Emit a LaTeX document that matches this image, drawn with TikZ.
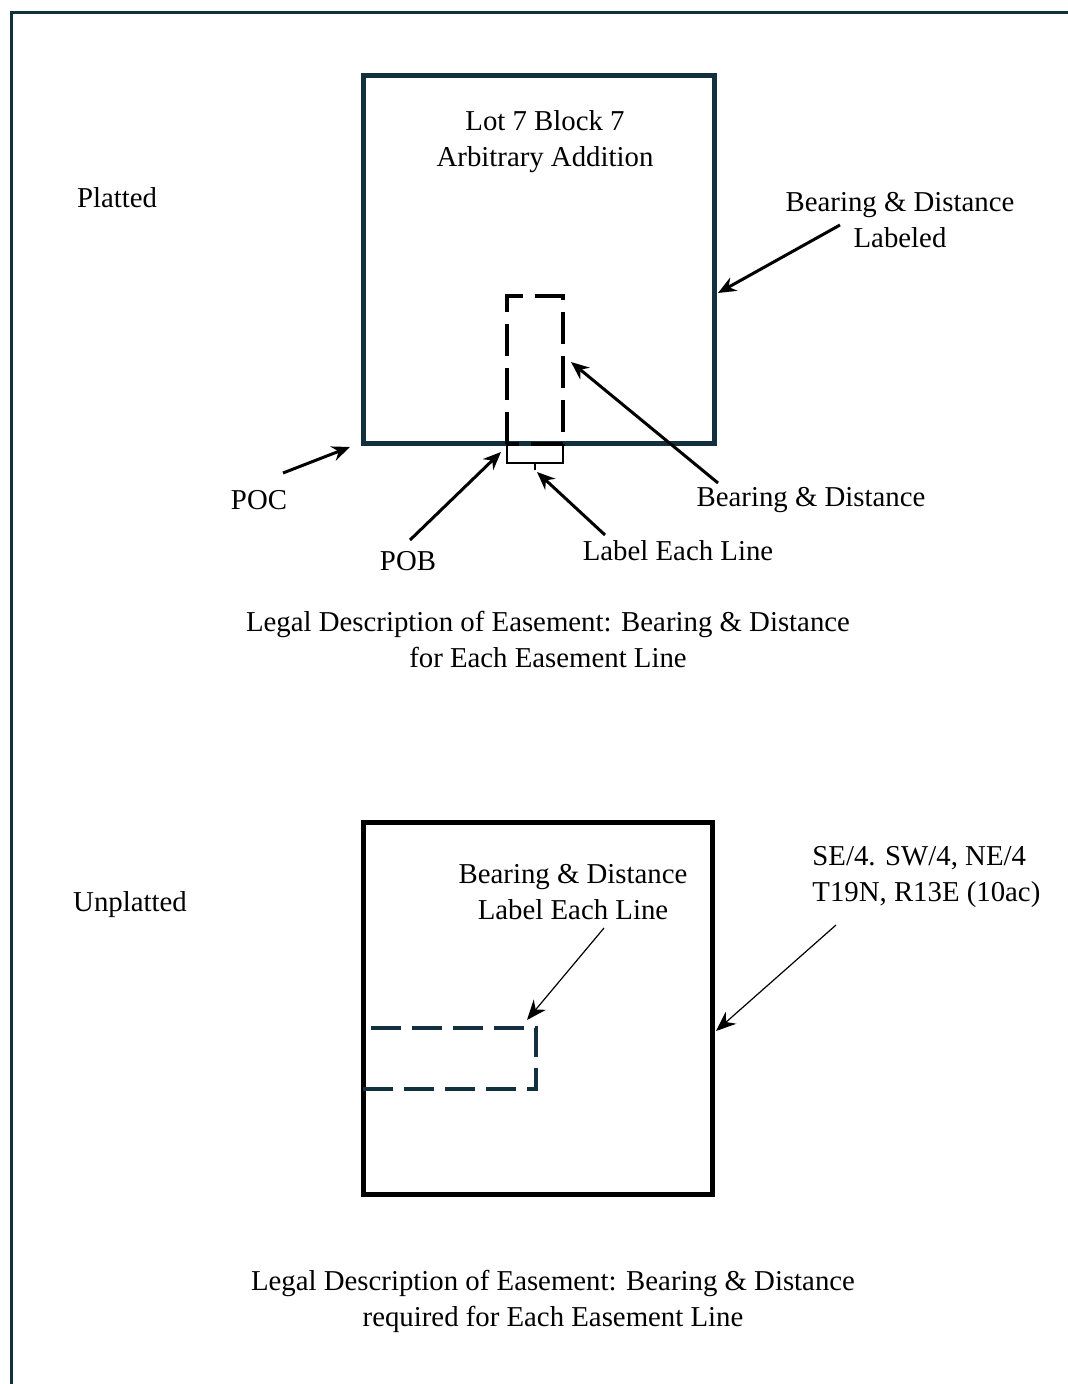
\documentclass[tikz,border=0pt]{standalone}
\usepackage{fontspec}
\setmainfont{Liberation Serif}
\usetikzlibrary{arrows.meta}
\definecolor{navy}{HTML}{12303D}

\tikzset{
  lotline/.style={line width=2.5pt, draw=navy},
  parcelline/.style={line width=2.5pt, draw=black},
  easeline/.style={line width=2pt, dash pattern=on 16pt off 6pt},
  easelow/.style={line width=1.75pt, draw=navy, dash pattern=on 15pt off 5.5pt},
  callout/.style={line width=1.5pt, -{Stealth[length=9pt,width=7.5pt]}},
  thincallout/.style={line width=0.6pt, -{Stealth[length=10pt,width=8pt]}},
  lbl/.style={font=\fontsize{14.4}{18}\selectfont, align=center, inner sep=0pt},
}

\begin{document}
\begin{tikzpicture}[x=0.5pt,y=-0.5pt]
    \useasboundingbox (0,0) rectangle (1068,1384);
    % frame
    \draw[line width=1.5pt, navy] (11,1384) -- (11,13) -- (1068,13);

    % platted lot
    \draw[lotline] (363,76) rectangle (714,444);
    \draw[easeline] (507,444) -- (507,296) -- (563,296) -- (563,444) -- cycle;
    \draw[line width=1.1pt] (507,444) -- (507,463) -- (563,463) -- (563,444);
    \draw[line width=1.1pt] (535,463) -- (535,470);

    \node[lbl] (lot) at (545,142) {Lot 7 Block 7\\Arbitrary Addition};
    \node[lbl] (platted) at (117,198) {Platted};
    \node[lbl] (bdlabeled) at (900,220) {Bearing \& Distance\\Labeled};
    \node[lbl] (bdtop) at (811,500) {Bearing \& Distance};
    \node[lbl] (eachline) at (678,551) {Label Each Line};
    \node[lbl] (poc) at (259,500) {POC};
    \node[lbl] (pob) at (408,561) {POB};
    \node[lbl] (captop) at (548,639) {Legal Description of Easement: Bearing \& Distance\\for Each Easement Line};

    \coordinate (lotside) at (718,293);
    \coordinate (easeside) at (571,362);
    \coordinate (bracket) at (537,472);
    \coordinate (lotcorner) at (350,447);
    \coordinate (easecorner) at (501,452);

    \draw[callout] (840,225) -- (lotside);
    \draw[callout] (718,483) -- (easeside);
    \draw[callout] (605,535) -- (bracket);
    \draw[callout] (283,473) -- (lotcorner);
    \draw[callout] (410,540) -- (easecorner);

    % unplatted tract
    \draw[parcelline] (363,822) rectangle (712,1194);
    \draw[easelow] (363,1089) -- (536,1089) -- (536,1028) -- (363,1028);

    \node[lbl] (unplatted) at (130,905) {Unplatted};
    \node[lbl] (bdlow) at (573,892) {Bearing \& Distance\\Label Each Line};
    \node[lbl, align=left, anchor=west] (aliquot) at (812,877) {SE/4. SW/4, NE/4\\T19N, R13E (10ac)};
    \node[lbl] (caplow) at (553,1301) {Legal Description of Easement: Bearing \& Distance\\required for Each Easement Line};

    \coordinate (easecorner2) at (527,1020);
    \coordinate (tractside) at (716,1031);

    \draw[thincallout] (604,928) -- (easecorner2);
    \draw[thincallout] (836,925) -- (tractside);

\end{tikzpicture}
\end{document}
